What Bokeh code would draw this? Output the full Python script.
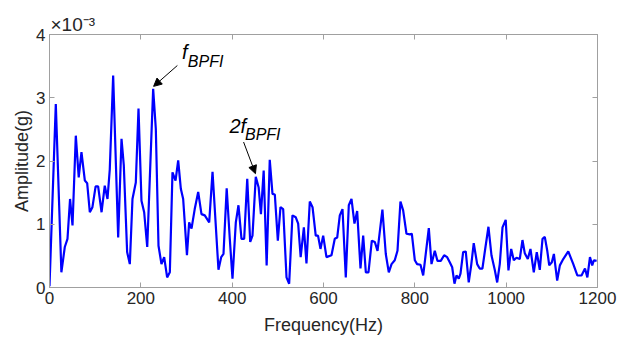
from bokeh.plotting import figure
from bokeh.models import Range1d, LinearAxis, FixedTicker, Label, Arrow, NormalHead, Title
from bokeh.embed import file_html
from bokeh.resources import INLINE

freq_hz = [0, 13.8, 26, 33.5, 39.4, 45, 50.4, 57.6, 64, 70, 77.4, 82.5, 88.3, 94, 101, 106.5,
           114, 121, 127, 132, 139.4, 150.4, 157.7, 162.7, 170, 175.9, 181.7, 189, 194.9, 201.4,
           207.3, 214, 227, 232.8, 238.7, 245.2, 251.1, 257.6, 263.5, 269.3, 276, 281.8, 287.6,
           292.7, 301, 305.8, 311, 318, 325.6, 332.8, 340, 349.7, 357, 370, 376, 381, 388, 394.8,
           400.7, 408, 413.8, 420.4, 426.3, 433, 439.5, 444.5, 451.7, 458, 463, 469, 475.5, 482.3,
           488.3, 493.4, 500, 505.8, 511.7, 519, 524.8, 532, 539.3, 544.5, 550, 557, 562.7, 570,
           576, 583, 588, 593.4, 599.3, 606.5, 617.5, 624.7, 630, 635.7, 641.6, 648.8, 655.4,
           661.3, 667.8, 673.7, 681, 686.9, 692.7, 698.5, 705.8, 712.4, 718.3, 729, 736.4, 743,
           749, 756, 762, 768.5, 774.4, 781.7, 789, 793.4, 800, 805, 812.4, 818.3, 830.6, 836.5,
           843.7, 849.6, 856.8, 864.2, 870.8, 876.5, 881.8, 886.8, 891.2, 896.2, 900, 905.8,
           911.5, 918, 923.4, 929, 936.5, 942, 948, 954.7, 961.2, 967.8, 975, 980.3, 986, 992,
           999, 1005, 1011, 1016.7, 1022.6, 1029.8, 1035.7, 1040.8, 1047.4, 1053.2, 1060.5, 1067,
           1073.6, 1079.6, 1084.6, 1090, 1094.3, 1100, 1104.5, 1111.7, 1117.6, 1125, 1136, 1147,
           1155.8, 1165, 1172.6, 1177.8, 1183.5, 1188.4, 1192, 1198]
amp_e3 = [0.02, 2.90, 0.24, 0.64, 0.77, 1.40, 0.98, 2.40, 1.74, 2.14, 1.69, 1.65, 1.19, 1.27, 1.60, 1.60,
          1.19, 1.61, 1.40, 1.87, 3.35, 0.79, 2.35, 1.93, 0.56, 0.37, 1.40, 1.66, 2.83, 1.37,
          1.19, 0.64, 3.14, 2.51, 0.66, 0.37, 0.48, 0.16, 0.24, 1.82, 1.69, 2.01, 1.56,
          1.40, 0.51, 1.03, 0.93, 1.24, 1.51, 1.16, 1.14, 1.03, 1.83, 0.28, 0.48, 0.53, 1.57, 0.77,
          0.14, 1.03, 1.30, 0.77, 0.77, 1.72, 0.72, 0.82, 1.75, 1.58, 1.16, 1.85, 0.35, 2.02,
          1.48, 1.47, 0.74, 1.27, 1.24, 0.16, 0.06, 1.14, 1.11, 1.01, 0.48, 0.95, 0.38, 1.36,
          1.27, 0.82, 0.82, 0.61, 0.82, 0.48, 0.51, 0.77, 0.79, 1.14, 1.24, 0.16, 1.30,
          1.40, 1.01, 1.21, 0.30, 0.82, 0.24, 0.24, 0.74, 0.72, 0.58, 1.23, 0.53, 0.24,
          0.37, 0.43, 0.58, 1.36, 1.22, 0.85, 0.84, 0.85, 0.43, 0.37, 0.36, 0.19, 0.94, 0.37,
          0.58, 0.42, 0.42, 0.51, 0.48, 0.40, 0.32, 0.06, 0.19, 0.14, 0.22, 0.56,
          0.57, 0.08, 0.35, 0.70, 0.37, 0.30, 0.30, 0.64, 0.96, 0.51, 0.28, 0.08, 0.37, 0.95,
          1.07, 0.27, 0.61, 0.43, 0.47, 0.45, 0.75, 0.54, 0.45, 0.61, 0.24, 0.56,
          0.28, 0.77, 0.80, 0.58, 0.35, 0.40, 0.53, 0.11, 0.35, 0.45, 0.57, 0.37,
          0.19, 0.19, 0.30, 0.16, 0.48, 0.35, 0.43, 0.42]

x_ticks = [0, 200, 400, 600, 800, 1000, 1200]
y_ticks = [0, 1, 2, 3, 4]

FONT = "Liberation Sans"
AXC = "#a0a0a0"
TXT = "#262626"

p = figure(width=633, height=341, output_backend="svg", toolbar_location=None,
           x_range=Range1d(0, 1200), y_range=Range1d(0, 4),
           min_border_left=49, min_border_right=36, min_border_top=34, min_border_bottom=54)
p.xgrid.visible = False
p.ygrid.visible = False
p.outline_line_color = AXC
p.outline_line_width = 1
p.background_fill_color = "white"
p.border_fill_color = "white"

p.line(freq_hz, amp_e3, line_color="#0000ff", line_width=2.2)

def style_axis(ax, ticks, show_labels):
    ax.ticker = FixedTicker(ticks=ticks)
    ax.axis_line_color = AXC
    ax.major_tick_line_color = AXC
    ax.major_tick_in = 5
    ax.major_tick_out = 0
    ax.minor_tick_line_color = None
    ax.major_label_text_font = FONT
    ax.major_label_text_font_size = "17px"
    ax.major_label_text_color = TXT
    ax.axis_label_text_font = FONT
    ax.axis_label_text_font_size = "18px"
    ax.axis_label_text_font_style = "normal"
    ax.axis_label_text_color = TXT
    if not show_labels:
        ax.major_label_text_font_size = "0px"
        ax.major_label_text_color = None
        ax.major_label_standoff = 0

style_axis(p.xaxis[0], x_ticks, True)
style_axis(p.yaxis[0], y_ticks, True)
p.xaxis[0].axis_label = "Frequency(Hz)"
p.yaxis[0].axis_label = "Amplitude(g)"
p.xaxis[0].major_label_standoff = 4
p.yaxis[0].major_label_standoff = 4
p.xaxis[0].axis_label_standoff = 8
p.yaxis[0].axis_label_standoff = 1

ra = LinearAxis()
style_axis(ra, y_ticks, False)
p.add_layout(ra, "right")
ta = LinearAxis()
style_axis(ta, x_ticks, False)
p.add_layout(ta, "above")

# exponent (axis multiplier) as the title
p.title = Title(text="×10⁻³", align="left", offset=1, standoff=0,
                text_font=FONT, text_font_size="19px", text_font_style="normal",
                text_color=TXT)
p.title_location = "above"

# annotations
p.add_layout(Label(x=290, y=3.72, text="f", text_font=FONT, text_font_size="20px",
                   text_font_style="italic", text_color="black", text_baseline="alphabetic"))
p.add_layout(Label(x=303, y=3.58, text="BPFI", text_font=FONT, text_font_size="16px",
                   text_font_style="italic", text_color="black", text_baseline="alphabetic"))
p.add_layout(Arrow(x_start=280, y_start=3.51, x_end=228, y_end=3.18, line_color="black",
                   line_width=1, end=NormalHead(size=8, fill_color="black", line_color="black")))

p.add_layout(Label(x=394, y=2.56, text="2f", text_font=FONT, text_font_size="20px",
                   text_font_style="italic", text_color="black", text_baseline="alphabetic"))
p.add_layout(Label(x=428, y=2.42, text="BPFI", text_font=FONT, text_font_size="16px",
                   text_font_style="italic", text_color="black", text_baseline="alphabetic"))
p.add_layout(Arrow(x_start=425, y_start=2.30, x_end=451, y_end=1.80, line_color="black",
                   line_width=1, end=NormalHead(size=8, fill_color="black", line_color="black")))

open("out.html", "w").write(file_html(p, INLINE))
